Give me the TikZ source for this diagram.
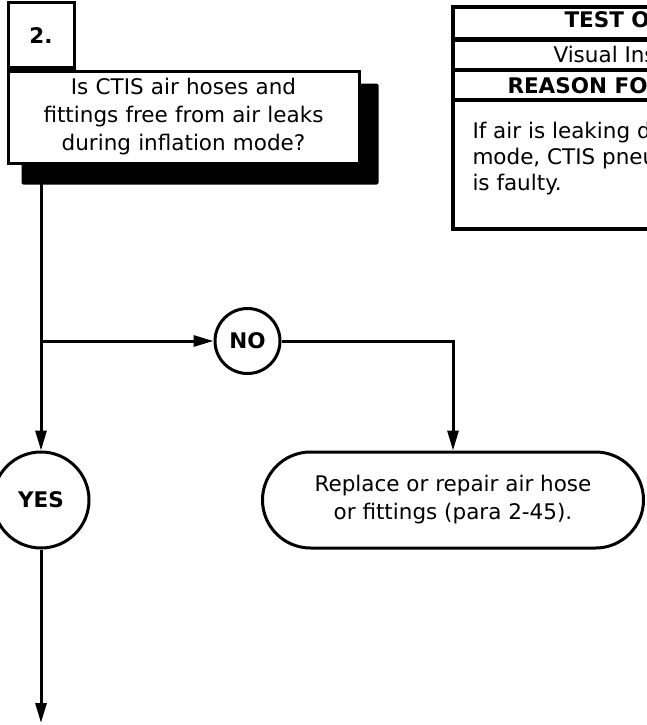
\documentclass[tikz,border=0pt]{standalone}
\usepackage{fontspec}
\setmainfont{DejaVu Sans}
\usetikzlibrary{positioning, arrows.meta, calc, backgrounds}

\begin{document}
\begin{tikzpicture}[x=1pt, y=-1pt, line width=3pt, >={Triangle[length=20pt,width=11pt]}]
    % Styles
    \tikzstyle{every node} = [font=\fontsize{21.5}{28}\selectfont]
    \tikzstyle{tab} = [rectangle, draw, fill=white, minimum width=66pt, minimum height=65pt, font=\fontsize{21.5}{28}\selectfont\bfseries]
    \tikzstyle{question} = [rectangle, draw, fill=white, text width=345pt, align=center, minimum height=92pt, inner sep=3pt]
    \tikzstyle{answer} = [circle, draw, fill=white, inner sep=0pt, font=\fontsize{21.5}{28}\selectfont\bfseries]
    \tikzstyle{action} = [rectangle, draw, fill=white, rounded corners=48pt, align=center, minimum width=381pt, minimum height=96pt]
    \tikzstyle{cell} = [anchor=base west, inner sep=0pt]

    \useasboundingbox (0,0) rectangle (647,725);

    % Nodes
    \node [question] (quest) at (183.5,117) {Is CTIS air hoses and\\fittings free from air leaks\\during inflation mode?};
    \node [tab, anchor=south west] (stepno) at (quest.north west) {2.};
    \node [answer, minimum size=65pt] (no) at (247.5,341) {NO};
    \node [answer, minimum size=96pt] (yes) at (41,500) {YES};
    \node [action] (repair) at (453,500) {Replace or repair air hose\\or fittings (para 2-45).};
    \coordinate (exit) at (41,723);

    % Shadow
    \begin{scope}[on background layer]
        \fill [rounded corners=2pt] ($(quest.south west)+(15,20)$) rectangle ($(quest.north east)+(18,14)$);
    \end{scope}

    % Arrows
    \draw [->] (quest.south -| yes.north) -- (yes.north);
    \draw [->] (no.west -| yes.north) -- (no.west);
    \draw [->] (no.east) -| (repair.north);
    \draw [->] (yes.south) -- (exit);

    % Test table (cut at the right edge)
    \begin{scope}
        \clip (0,0) rectangle (647,725);
        \draw [line width=3.5pt] (453,7) rectangle (720,229);
        \draw [line width=5pt] (453,39.5) -- (720,39.5);
        \draw [line width=3.5pt] (453,70) -- (720,70) (453,100) -- (720,100);
        \node [cell, font=\fontsize{21.5}{28}\selectfont\bfseries] (testhead) at (563,28) {TEST OR};
        \node [cell] (testkind) at (552,63) {Visual Inspection};
        \node [cell, font=\fontsize{21.5}{28}\selectfont\bfseries] (reasonhead) at (506,93) {REASON FOR};
        \node [cell] (reason1) at (471,138) {If air is leaking during};
        \node [cell] (reason2) at (471,164) {mode, CTIS pneumatic};
        \node [cell] (reason3) at (471,190) {is faulty.};
    \end{scope}
\end{tikzpicture}
\end{document}
